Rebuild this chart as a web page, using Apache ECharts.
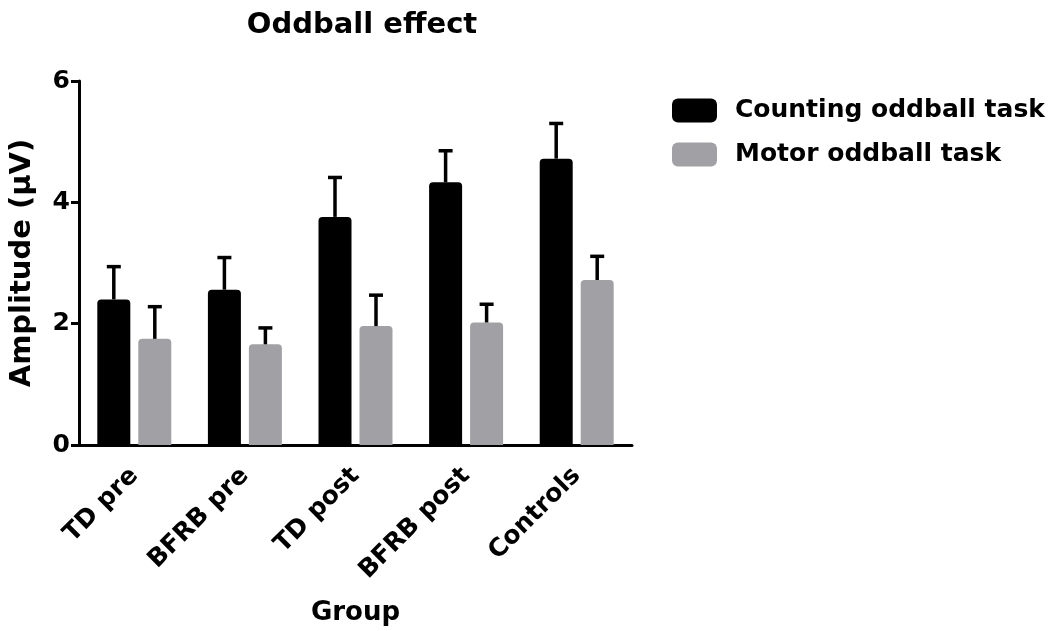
<!DOCTYPE html>
<html>
<head>
<meta charset="utf-8">
<script src="https://cdn.jsdelivr.net/npm/echarts@6/dist/echarts.min.js"></script>
<style>
html,body{margin:0;padding:0;background:#fff;}
#c{width:1053px;height:631px;}
</style>
</head>
<body>
<div id="c"></div>
<script>
const categories = ['TD pre', 'BFRB pre', 'TD post', 'BFRB post', 'Controls'];
const countingMean = [2.40, 2.56, 3.76, 4.33, 4.72];
const countingErr = [0.54, 0.53, 0.65, 0.52, 0.58];
const motorMean = [1.75, 1.66, 1.96, 2.02, 2.72];
const motorErr = [0.53, 0.27, 0.51, 0.30, 0.39];
const yTicks = [0, 2, 4, 6];

const FONT = 'DejaVu Sans';
const BAR_W = 33;
const GAP = 8;
const CAP_W = 14;

function errSeries(name, means, errs, side) {
  return {
    name: name + ' err',
    type: 'custom',
    z: 10,
    silent: true,
    data: means.map((m, i) => [i, m, m + errs[i]]),
    renderItem: function (params, api) {
      const off = side * (BAR_W + GAP) / 2;
      const lo = api.coord([api.value(0), api.value(1)]);
      const hi = api.coord([api.value(0), api.value(2)]);
      const x = lo[0] + off;
      const st = { stroke: '#000', lineWidth: 3.5 };
      return {
        type: 'group',
        children: [
          { type: 'line', shape: { x1: x, y1: lo[1], x2: x, y2: hi[1] }, style: st },
          { type: 'line', shape: { x1: x - CAP_W / 2, y1: hi[1], x2: x + CAP_W / 2, y2: hi[1] }, style: st }
        ]
      };
    }
  };
}

const chart = echarts.init(document.getElementById('c'));
chart.setOption({
  animation: false,
  backgroundColor: '#fff',
  title: {
    text: 'Oddball effect',
    left: 357,
    textAlign: 'center',
    top: 6,
    textStyle: { fontFamily: FONT, fontWeight: 'bold', fontSize: 29, color: '#000' }
  },
  legend: {
    orient: 'vertical',
    left: 667,
    top: 93,
    itemWidth: 45,
    itemHeight: 24,
    itemGap: 19,
    icon: 'roundRect',
    data: ['Counting oddball task', 'Motor oddball task'],
    textStyle: { fontFamily: FONT, fontWeight: 'bold', fontSize: 25, color: '#000', lineHeight: 24, padding: [0, 0, 0, 13] }
  },
  grid: { left: 79, top: 81, right: 421, bottom: 184, containLabel: false },
  xAxis: {
    type: 'category',
    data: categories,
    name: 'Group',
    nameLocation: 'middle',
    nameGap: 155,
    nameTextStyle: { fontFamily: FONT, fontWeight: 'bold', fontSize: 26, color: '#000' },
    axisLine: { lineStyle: { color: '#000', width: 3 } },
    axisTick: { alignWithLabel: true, length: 8, lineStyle: { color: '#000', width: 3 } },
    axisLabel: { rotate: 45, margin: 27, fontFamily: FONT, fontWeight: 'bold', fontSize: 25, color: '#000', interval: 0 },
    splitLine: { show: false }
  },
  yAxis: {
    type: 'value',
    min: yTicks[0],
    max: yTicks[yTicks.length - 1],
    interval: yTicks[1] - yTicks[0],
    name: 'Amplitude (µV)',
    nameLocation: 'middle',
    nameGap: 42,
    nameTextStyle: { fontFamily: FONT, fontWeight: 'bold', fontSize: 29, color: '#000' },
    axisLine: { show: true, lineStyle: { color: '#000', width: 3 } },
    axisTick: { show: true, length: 8, lineStyle: { color: '#000', width: 3 } },
    axisLabel: { margin: 9, fontFamily: FONT, fontWeight: 'bold', fontSize: 25, color: '#000' },
    splitLine: { show: false }
  },
  series: [
    {
      name: 'Counting oddball task',
      type: 'bar',
      data: countingMean,
      barWidth: BAR_W,
      barGap: (GAP / BAR_W * 100).toFixed(1) + '%',
      itemStyle: { color: '#000000', borderRadius: [4, 4, 0, 0] }
    },
    {
      name: 'Motor oddball task',
      type: 'bar',
      data: motorMean,
      barWidth: BAR_W,
      itemStyle: { color: '#a1a1a5', borderRadius: [4, 4, 0, 0] }
    },
    errSeries('Counting oddball task', countingMean, countingErr, -1),
    errSeries('Motor oddball task', motorMean, motorErr, 1)
  ]
});
</script>
</body>
</html>
